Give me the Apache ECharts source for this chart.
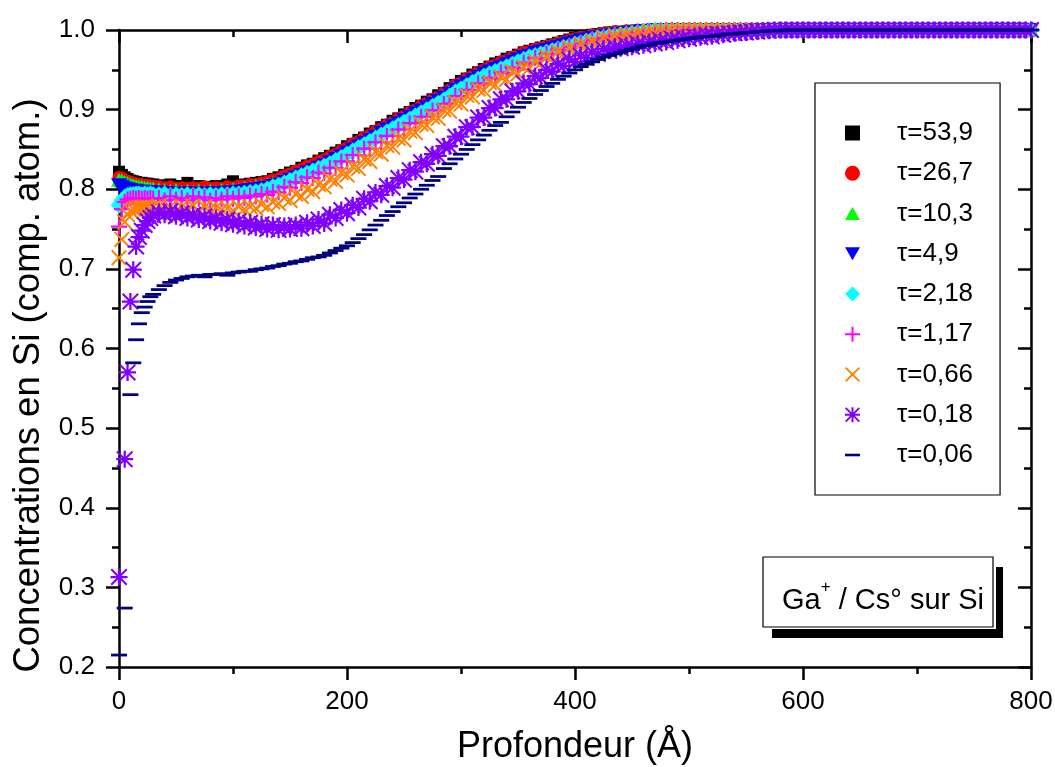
<!DOCTYPE html>
<html>
<head>
<meta charset="utf-8">
<script src="https://cdn.jsdelivr.net/npm/echarts@6/dist/echarts.min.js"></script>
<style>
html,body{margin:0;padding:0;background:#fff;}
#chart{width:1055px;height:767px;}
</style>
</head>
<body>
<div id="chart"></div>
<script>
// Depth (Å)
const depth = [
0,2.5,5,7.5,10,12.5,15,17.5,20,22.5,25,27.5,30,
35,40,45,50,55,60,65,70,75,80,
85,90,95,100,105,110,115,120,125,130,
135,140,145,150,155,160,165,170,175,180,
185,190,195,200,205,210,215,220,225,230,
235,240,245,250,255,260,265,270,275,280,
285,290,295,300,305,310,315,320,325,330,
335,340,345,350,355,360,365,370,375,380,
385,390,395,400,405,410,415,420,425,430,
435,440,445,450,455,460,465,470,475,480,
485,490,495,500,505,510,515,520,525,530,
535,540,545,550,555,560,565,570,575,580,
585,590,595,600,605,610,615,620,625,630,
635,640,645,650,655,660,665,670,675,680,
685,690,695,700,705,710,715,720,725,730,
735,740,745,750,755,760,765,770,775,780,
785,790,795,800];

const tau53_9 = [
.822,.818,.815,.813,.811,.810,.809,.808,.808,.807,.807,.806,.806,
.805,.804,.806,.803,.804,.808,.803,.804,.802,.803,
.804,.803,.806,.810,.805,.806,.807,.808,.809,.810,
.813,.815,.818,.821,.823,.827,.830,.832,.836,.839,
.842,.846,.849,.854,.857,.862,.865,.870,.873,.878,
.881,.886,.889,.894,.897,.902,.905,.910,.913,.918,
.921,.927,.931,.936,.939,.944,.947,.951,.954,.958,
.960,.964,.966,.969,.972,.974,.976,.978,.980,.982,
.984,.986,.988,.990,.991,.992,.994,.995,.996,.997,
.997,.998,.998,.999,.999,1,1,1,1,1,
1,1,1,1,1,1,1,1,1,1,
1,1,1,1,1,1,1,1,1,1,
1,1,1,1,1,1,1,1,1,1,
1,1,1,1,1,1,1,1,1,1,
1,1,1,1,1,1,1,1,1,1,
1,1,1,1,1,1,1,1,1,1,
1,1,1,1];

const tau26_7 = [
.815,.814,.812,.810,.809,.808,.807,.806,.806,.805,.805,.804,.804,
.803,.802,.803,.801,.802,.801,.802,.801,.803,.801,
.802,.801,.803,.802,.804,.804,.806,.806,.808,.809,
.812,.813,.817,.819,.823,.825,.829,.831,.835,.837,
.841,.844,.849,.852,.857,.860,.865,.868,.873,.876,
.881,.884,.889,.892,.897,.900,.905,.908,.913,.916,
.921,.925,.931,.934,.939,.942,.947,.950,.954,.956,
.960,.962,.966,.968,.972,.973,.976,.977,.980,.981,
.984,.985,.988,.989,.991,.991,.994,.994,.996,.996,
.998,.997,.999,.998,1,.999,1,1,1,1,
1,1,1,1,1,1,1,1,1,1,
1,1,1,1,1,1,1,1,1,1,
1,1,1,1,1,1,1,1,1,1,
1,1,1,1,1,1,1,1,1,1,
1,1,1,1,1,1,1,1,1,1,
1,1,1,1,1,1,1,1,1,1,
1,1,1,1];

const tau10_3 = [
.812,.811,.809,.808,.806,.805,.804,.803,.803,.802,.802,.801,.801,
.800,.799,.798,.799,.797,.798,.797,.798,.797,.798,
.797,.799,.798,.800,.800,.802,.802,.804,.804,.806,
.808,.810,.812,.815,.817,.820,.822,.826,.828,.832,
.834,.839,.842,.847,.850,.855,.859,.864,.869,.874,
.878,.882,.886,.890,.894,.898,.902,.906,.910,.914,
.918,.923,.928,.932,.936,.940,.944,.948,.951,.954,
.957,.960,.963,.966,.969,.971,.973,.976,.978,.980,
.982,.984,.986,.988,.989,.990,.992,.993,.994,.995,
.996,.997,.997,.998,.998,.999,.999,1,1,1,
1,1,1,1,1,1,1,1,1,1,
1,1,1,1,1,1,1,1,1,1,
1,1,1,1,1,1,1,1,1,1,
1,1,1,1,1,1,1,1,1,1,
1,1,1,1,1,1,1,1,1,1,
1,1,1,1,1,1,1,1,1,1,
1,1,1,1];

const tau4_9 = [
.805,.803,.801,.800,.799,.798,.798,.797,.797,.797,.796,.796,.796,
.796,.795,.795,.794,.794,.795,.794,.794,.795,.794,
.795,.795,.796,.796,.797,.798,.799,.800,.801,.802,
.804,.806,.809,.812,.815,.818,.821,.824,.827,.830,
.834,.838,.842,.846,.850,.854,.858,.862,.866,.871,
.875,.879,.883,.887,.891,.895,.899,.903,.907,.911,
.915,.920,.925,.929,.933,.937,.941,.945,.948,.951,
.954,.957,.960,.963,.966,.968,.971,.973,.975,.977,
.979,.981,.983,.985,.987,.988,.990,.991,.992,.993,
.994,.995,.996,.997,.998,.998,.999,1,1,1,
1,1,1,1,1,1,1,1,1,1,
1,1,1,1,1,1,1,1,1,1,
1,1,1,1,1,1,1,1,1,1,
1,1,1,1,1,1,1,1,1,1,
1,1,1,1,1,1,1,1,1,1,
1,1,1,1,1,1,1,1,1,1,
1,1,1,1];

const tau2_18 = [
.780,.786,.790,.792,.793,.793,.794,.794,.793,.794,.793,.794,.793,
.793,.794,.792,.793,.792,.793,.792,.793,.792,.793,
.792,.793,.793,.794,.794,.795,.796,.797,.798,.800,
.803,.805,.808,.811,.814,.817,.820,.823,.826,.829,
.832,.836,.840,.844,.848,.852,.856,.860,.864,.868,
.872,.876,.880,.884,.888,.892,.896,.900,.904,.908,
.912,.917,.922,.926,.930,.934,.938,.942,.945,.948,
.951,.954,.957,.960,.963,.966,.968,.970,.972,.974,
.976,.978,.980,.982,.984,.986,.988,.990,.991,.992,
.993,.994,.995,.996,.997,.998,.999,1,1,1,
1,1,1,1,1,1,1,1,1,1,
1,1,1,1,1,1,1,1,1,1,
1,1,1,1,1,1,1,1,1,1,
1,1,1,1,1,1,1,1,1,1,
1,1,1,1,1,1,1,1,1,1,
1,1,1,1,1,1,1,1,1,1,
1,1,1,1];

const tau1_17 = [
.753,.775,.784,.787,.788,.789,.788,.789,.788,.789,.788,.789,.788,
.789,.786,.791,.787,.789,.786,.791,.788,.790,.786,
.789,.787,.791,.788,.791,.789,.792,.791,.794,.793,
.797,.796,.803,.802,.809,.808,.815,.814,.821,.820,
.827,.827,.835,.835,.843,.843,.851,.851,.859,.859,
.867,.867,.875,.875,.883,.883,.891,.891,.899,.899,
.907,.908,.917,.917,.925,.925,.933,.933,.940,.939,
.947,.946,.953,.952,.959,.958,.965,.964,.970,.970,
.975,.975,.979,.979,.983,.983,.987,.987,.990,.989,
.992,.991,.994,.993,.996,.995,.998,.997,.999,1,
1,1,1,1,1,1,1,1,1,1,
1,1,1,1,1,1,1,1,1,1,
1,1,1,1,1,1,1,1,1,1,
1,1,1,1,1,1,1,1,1,1,
1,1,1,1,1,1,1,1,1,1,
1,1,1,1,1,1,1,1,1,1,
1,1,1,1];

const tau0_66 = [
.714,.737,.759,.768,.773,.775,.776,.777,.777,.778,.777,.776,.777,
.779,.774,.778,.773,.778,.775,.779,.773,.778,.775,
.777,.774,.776,.773,.778,.775,.778,.776,.781,.778,
.784,.782,.789,.786,.794,.791,.800,.797,.806,.803,
.813,.810,.821,.818,.829,.826,.838,.835,.847,.844,
.855,.853,.864,.862,.873,.871,.882,.880,.891,.889,
.900,.898,.909,.907,.918,.916,.926,.924,.934,.931,
.941,.938,.948,.945,.954,.952,.961,.958,.967,.965,
.973,.970,.978,.975,.982,.980,.986,.984,.990,.988,
.992,.991,.994,.993,.996,.995,.998,.997,.999,.998,
1,1,1,1,1,1,1,1,1,1,
1,1,1,1,1,1,1,1,1,1,
1,1,1,1,1,1,1,1,1,1,
1,1,1,1,1,1,1,1,1,1,
1,1,1,1,1,1,1,1,1,1,
1,1,1,1,1,1,1,1,1,1,
1,1,1,1];

const tau0_18 = [
.313,null,.461,.570,.659,.699,.728,.740,.748,.755,.760,.764,.767,
.771,.768,.772,.766,.770,.764,.768,.762,.766,.760,
.764,.758,.762,.756,.760,.754,.758,.752,.756,.750,
.755,.749,.754,.750,.755,.751,.758,.754,.762,.757,
.768,.764,.774,.770,.780,.777,.788,.785,.796,.793,
.804,.802,.814,.812,.824,.822,.834,.832,.844,.842,
.854,.854,.866,.866,.878,.878,.890,.890,.902,.902,
.913,.913,.923,.923,.933,.932,.942,.940,.950,.948,
.957,.955,.963,.960,.968,.965,.972,.970,.976,.974,
.979,.977,.981,.979,.983,.981,.985,.983,.987,.985,
.989,.987,.991,.989,.992,.991,.994,.992,.995,.994,
.996,.996,.997,.997,.998,.998,.999,.999,1,1,
1,1,1,1,1,1,1,1,1,1,
1,1,1,1,1,1,1,1,1,1,
1,1,1,1,1,1,1,1,1,1,
1,1,1,1,1,1,1,1,1,1,
1,1,1,1];

const tau0_06 = [
.215,null,.274,null,.542,.582,.611,.631,.645,.652,.659,.665,.668,
.674,.679,.683,.686,.688,.690,.691,.692,.690,.693,
.693,.694,.692,.695,.696,.697,.697,.699,.700,.701,
.703,.704,.706,.707,.709,.710,.712,.714,.715,.717,
.720,.723,.726,.729,.733,.738,.743,.749,.755,.761,
.767,.772,.778,.783,.789,.794,.800,.805,.811,.816,
.826,.832,.838,.844,.850,.856,.862,.868,.874,.880,
.884,.891,.897,.903,.909,.914,.919,.924,.929,.933,
.938,.942,.946,.950,.954,.957,.960,.963,.966,.968,
.970,.972,.974,.976,.978,.980,.981,.983,.984,.985,
.986,.987,.988,.989,.990,.991,.992,.992,.993,.994,
.995,.995,.996,.997,.997,.998,.998,.999,.999,.999,
1,1,1,1,1,1,1,1,1,1,
1,1,1,1,1,1,1,1,1,1,
1,1,1,1,1,1,1,1,1,1,
1,1,1,1,1,1,1,1,1,1,
1,1,1,1];

const seriesNames = ['τ=53,9','τ=26,7','τ=10,3','τ=4,9','τ=2,18','τ=1,17','τ=0,66','τ=0,18','τ=0,06'];
const seriesValues = [tau53_9, tau26_7, tau10_3, tau4_9, tau2_18, tau1_17, tau0_66, tau0_18, tau0_06];
const xTicks = [0, 200, 400, 600, 800];

// styles
const FONT = "'Liberation Sans', Arial, Helvetica, sans-serif";
const PLUS = 'M6.5,0H8.5V6.5H15V8.5H8.5V15H6.5V8.5H0V6.5H6.5Z';
const CROSS = 'M0,1.3L1.3,0L7.5,6.2L13.7,0L15,1.3L8.8,7.5L15,13.7L13.7,15L7.5,8.8L1.3,15L0,13.7L6.2,7.5Z';
const styles = [
  {color:'#000000', symbol:'rect', size:12},
  {color:'#ff0000', symbol:'circle', size:13},
  {color:'#00ff00', symbol:'path://M8,0L16,14L0,14Z', size:16},
  {color:'#0000ff', symbol:'path://M0,0L16,0L8,14Z', size:16},
  {color:'#00ffff', symbol:'diamond', size:17},
  {color:'#ff00ff', symbol:'path://' + PLUS, size:16},
  {color:'#ff8000', symbol:'path://' + CROSS, size:16},
  {color:'#8000ff', symbol:'path://' + PLUS + ' ' + CROSS, size:17},
  {color:'#000080', symbol:'path://M0,0H15V2.6H0Z', size:16}
];

const chart = echarts.init(document.getElementById('chart'), null, {renderer:'canvas'});

const axisLineStyle = {color:'#000', width:2.5};
const commonX = {
  type:'value', min:0, max:800, interval:200,
  axisLine:{show:true, onZero:false, lineStyle:axisLineStyle},
  splitLine:{show:false},
  minorTick:{show:true, splitNumber:2, length:7, lineStyle:{color:'#000', width:2.5}},
  axisTick:{show:true, length:13, lineStyle:{color:'#000', width:2.5}}
};
const commonY = {
  type:'value', min:0.2, max:1.0, interval:0.1,
  axisLine:{show:true, onZero:false, lineStyle:axisLineStyle},
  splitLine:{show:false},
  minorTick:{show:true, splitNumber:2, length:7, lineStyle:{color:'#000', width:2.5}},
  axisTick:{show:true, length:13, lineStyle:{color:'#000', width:2.5}}
};

const option = {
  animation:false,
  backgroundColor:'#ffffff',
  textStyle:{fontFamily:FONT},
  grid:{left:119, right:24, top:30, bottom:100, containLabel:false, outerBoundsMode:'none'},
  xAxis:[
    Object.assign({}, commonX, {
      position:'bottom',
      axisTick:Object.assign({}, commonX.axisTick, {inside:false}),
      axisLabel:{show:true, color:'#000', fontSize:26, fontFamily:FONT, margin:22,
        formatter:(v)=> xTicks.includes(v) ? String(v) : ''},
      name:'Profondeur (Å)', nameLocation:'middle', nameGap:62,
      nameTextStyle:{color:'#000', fontSize:36, fontFamily:FONT}
    }),
    Object.assign({}, commonX, {
      position:'top',
      axisTick:Object.assign({}, commonX.axisTick, {inside:true}),
      axisLabel:{show:false}
    })
  ],
  yAxis:[
    Object.assign({}, commonY, {
      position:'left',
      axisTick:Object.assign({}, commonY.axisTick, {inside:false}),
      axisLabel:{show:true, color:'#000', fontSize:26, fontFamily:FONT, margin:24,
        formatter:(v)=> v.toFixed(1)},
      name:'Concentrations en Si (comp. atom.)', nameLocation:'middle', nameGap:72,
      nameTextStyle:{color:'#000', fontSize:36.5, fontFamily:FONT, padding:[0,74,0,0]}
    }),
    Object.assign({}, commonY, {
      position:'right',
      axisTick:Object.assign({}, commonY.axisTick, {inside:true}),
      axisLabel:{show:false}
    })
  ],
  legend:{
    orient:'vertical', left:815, top:83,
    padding:[37, 27, 27, 30],
    itemWidth:15, itemHeight:15, itemGap:14.25,
    symbolKeepAspect:true,
    selectedMode:false,
    backgroundColor:'#ffffff', borderColor:'#000', borderWidth:1.2,
    textStyle:{fontFamily:FONT, fontSize:26, color:'#000', lineHeight:26, padding:[0,0,0,32]},
    data:seriesNames
  },
  graphic:[
    {type:'rect', z:100, shape:{x:772, y:629, width:231, height:9}, style:{fill:'#000'}},
    {type:'rect', z:100, shape:{x:996, y:567, width:7, height:71}, style:{fill:'#000'}},
    {type:'rect', z:100, shape:{x:763, y:557, width:230, height:70}, style:{fill:'#fff', stroke:'#000', lineWidth:1.2}},
    {type:'text', z:101, x:782, y:601, style:{
      text:'Ga{sup|+} / Cs° sur Si',
      fontFamily:FONT, fontSize:29, fill:'#000', verticalAlign:'middle', lineHeight:44,
      rich:{sup:{fontSize:17, lineHeight:17, verticalAlign:'top', fontFamily:FONT, fill:'#000'}}
    }}
  ],
  series: seriesNames.map((name, k) => ({
    type:'scatter',
    name:name,
    xAxisIndex:0, yAxisIndex:0,
    data: depth.map((d, i) => [d, seriesValues[k][i]]).filter(p => p[1] !== null && p[1] !== undefined),
    symbol: styles[k].symbol,
    symbolSize: styles[k].size,
    symbolKeepAspect:true,
    itemStyle:{color:styles[k].color, opacity:1},
    clip:false,
    silent:true,
    z:2
  }))
};
chart.setOption(option);
</script>
</body>
</html>
